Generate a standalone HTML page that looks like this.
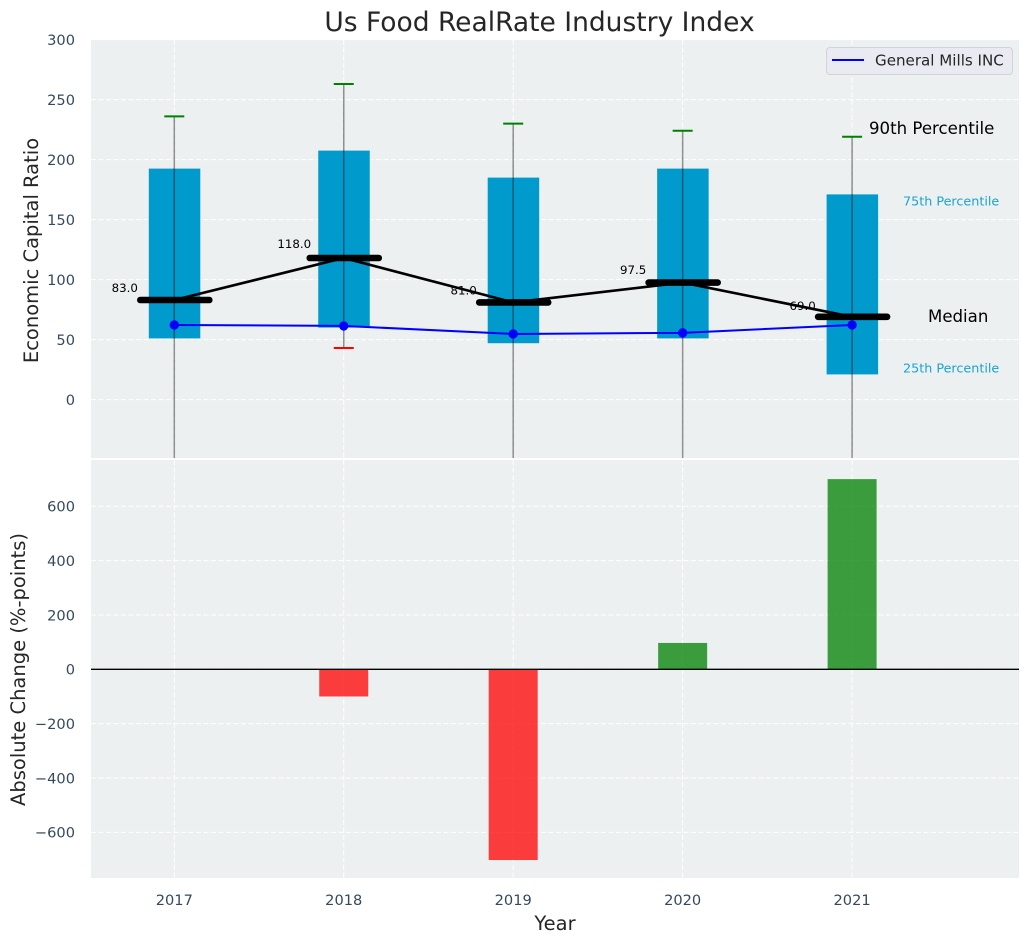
<!DOCTYPE html>
<html lang="en">
<head>
<meta charset="utf-8">
<title>Us Food RealRate Industry Index</title>
<style>
html,body{margin:0;padding:0;background:#fff;}
svg{display:block;font-family:"DejaVu Sans","Liberation Sans",sans-serif;}
</style>
</head>
<body>
<svg id="chart" xmlns="http://www.w3.org/2000/svg" width="1029" height="942" viewBox="0 0 1029 942">
<defs>
<clipPath id="clip-top"><rect x="91" y="40" width="928" height="418"/></clipPath>
<clipPath id="clip-bottom"><rect x="91" y="460" width="928" height="418"/></clipPath>
</defs>
<rect x="91" y="40" width="928" height="418" fill="#ecf0f1"/>
<rect x="91" y="460" width="928" height="418" fill="#ecf0f1"/>
<g id="grid"></g>
<g id="top-marks" clip-path="url(#clip-top)"></g>
<g id="bottom-marks" clip-path="url(#clip-bottom)"></g>
<g id="ticks"></g>
<text x="539.5" y="31" text-anchor="middle" font-size="26.5" fill="#262626">Us Food RealRate Industry Index</text>
<text transform="translate(38,250.5) rotate(-90)" text-anchor="middle" font-size="19.5" fill="#262626">Economic Capital Ratio</text>
<text transform="translate(25,669.5) rotate(-90)" text-anchor="middle" font-size="19.5" fill="#262626">Absolute Change (%-points)</text>
<text x="555" y="930" text-anchor="middle" font-size="19.5" fill="#262626">Year</text>
<text x="869" y="134" font-size="16.6" fill="#000">90th Percentile</text>
<text x="903" y="205.500" font-size="12.75" fill="#1ba3cf">75th Percentile</text>
<text x="928" y="322" font-size="16.6" fill="#000">Median</text>
<text x="903" y="372.500" font-size="12.75" fill="#1ba3cf">25th Percentile</text>
<g>
<rect x="826.500" y="47.500" width="186" height="27" rx="3.500" fill="#eaeaf2" stroke="#d2d2d8" stroke-width="1"/>
<line x1="832" x2="864" y1="60" y2="60" stroke="#0000ff" stroke-width="2"/>
<text x="875" y="65.500" font-size="15.1" fill="#262626">General Mills INC</text>
</g>
</svg>
<script>
const years = [2017, 2018, 2019, 2020, 2021];
const p25 = [51, 60, 47, 51, 21];
const p75 = [192.5, 207.5, 185, 192.5, 171];
const p90 = [236, 263, 230, 224, 219];
const whiskerLow = [-100, 43, -100, -100, -100];
const lowCapVisible = [false, true, false, false, false];
const medians = [83, 118, 81, 97.5, 69];
const medianLabels = ["83.0", "118.0", "81.0", "97.5", "69.0"];
const company = [62.2, 61.4, 54.7, 55.6, 62.2];
const changes = [0, -100, -702, 97, 700];
const topTicks = [0, 50, 100, 150, 200, 250, 300];
const bottomTicks = [-600, -400, -200, 0, 200, 400, 600];

const NS = "http://www.w3.org/2000/svg";
const xAxis = i => 174.3 + 169.45 * i;
const yTop = v => 399.6 - 1.2 * v;
const yBottom = v => 669.3 - 0.2717 * v;

function mk(tag, attrs, parent) {
  const el = document.createElementNS(NS, tag);
  for (const k in attrs) el.setAttribute(k, attrs[k]);
  parent.appendChild(el);
  return el;
}

const grid = document.getElementById("grid");
const topMarks = document.getElementById("top-marks");
const bottomMarks = document.getElementById("bottom-marks");
const ticks = document.getElementById("ticks");
const dash = "5 2.5";
const tickColor = "#34495e";

years.forEach((yr, i) => {
  const x = xAxis(i);
  const g1 = mk("line", {x1: x, x2: x, y1: 40, y2: 458, stroke: "#fff", "stroke-width": 1, "stroke-dasharray": dash}, grid);
  
  
  const g2 = mk("line", {x1: x, x2: x, y1: 460, y2: 878, stroke: "#fff", "stroke-width": 1, "stroke-dasharray": dash}, grid);
  
  
  const t = mk("text", {x: x, y: 905, "text-anchor": "middle", "font-size": 14.6, fill: tickColor}, ticks);
  t.textContent = yr;
  
  
});

topTicks.forEach(v => {
  const y = yTop(v);
  const g = mk("line", {x1: 91, x2: 1019, y1: y, y2: y, stroke: "#fff", "stroke-width": 1, "stroke-dasharray": dash}, grid);
  
  
  const t = mk("text", {x: 75, y: y + 5.4, "text-anchor": "end", "font-size": 14.6, fill: tickColor}, ticks);
  t.textContent = v;
  
  
});

bottomTicks.forEach(v => {
  const y = yBottom(v);
  const g = mk("line", {x1: 91, x2: 1019, y1: y, y2: y, stroke: "#fff", "stroke-width": 1, "stroke-dasharray": dash}, grid);
  
  
  const t = mk("text", {x: 75, y: y + 5.4, "text-anchor": "end", "font-size": 14.6, fill: tickColor}, ticks);
  t.textContent = v < 0 ? "\u2212" + Math.abs(v) : v;
  
  
});

years.forEach((yr, i) => {
  const x = xAxis(i);
  const box = mk("rect", {x: x - 25.5, y: yTop(p75[i]), width: 51.5, height: yTop(p25[i]) - yTop(p75[i]), fill: "#009acd"}, topMarks);
  
  
});

years.forEach((yr, i) => {
  const x = xAxis(i);
  const label = mk("text", {x: x - 49.5, y: yTop(medians[i] * 1.0525 + 5.8) + 4.3, "text-anchor": "middle", "font-size": 11.8, fill: "#000"}, topMarks);
  label.textContent = medianLabels[i];
  
  
});

years.forEach((yr, i) => {
  const x = xAxis(i);
  const w = mk("line", {x1: x, x2: x, y1: yTop(p90[i]), y2: yTop(whiskerLow[i]), stroke: "#000", "stroke-opacity": 0.42, "stroke-width": 1.5}, topMarks);
  
  
  const cap = mk("line", {x1: x - 10, x2: x + 10, y1: yTop(p90[i]), y2: yTop(p90[i]), stroke: "#008000", "stroke-width": 2}, topMarks);
  
  
  if (lowCapVisible[i]) {
    const low = mk("line", {x1: x - 10, x2: x + 10, y1: yTop(whiskerLow[i]), y2: yTop(whiskerLow[i]), stroke: "#ff0000", "stroke-width": 2}, topMarks);
    
    
  }
  const med = mk("line", {x1: x - 34, x2: x + 35, y1: yTop(medians[i]), y2: yTop(medians[i]), stroke: "#000", "stroke-width": 6.6, "stroke-linecap": "round"}, topMarks);
  
  
});

const medianPath = mk("polyline", {points: medians.map((v, i) => xAxis(i) + "," + yTop(v)).join(" "), fill: "none", stroke: "#000", "stroke-width": 2.6}, topMarks);



const companyPath = mk("polyline", {points: company.map((v, i) => xAxis(i) + "," + yTop(v)).join(" "), fill: "none", stroke: "#0000ff", "stroke-width": 2}, topMarks);



company.forEach((v, i) => {
  const dot = mk("circle", {cx: xAxis(i), cy: yTop(v), r: 4.7, fill: "#0000ff"}, topMarks);
  
  
});

changes.forEach((v, i) => {
  if (v === 0) return;
  const y0 = yBottom(0), y1 = yBottom(v);
  const bar = mk("rect", {x: xAxis(i) - 24.5, y: Math.min(y0, y1), width: 49, height: Math.abs(y1 - y0), fill: v < 0 ? "#ff0000" : "#008000", "fill-opacity": 0.75}, bottomMarks);
  
  
});

const zero = mk("line", {x1: 91, x2: 1019, y1: yBottom(0), y2: yBottom(0), stroke: "#000", "stroke-width": 1.3}, bottomMarks);


</script>
</body>
</html>
